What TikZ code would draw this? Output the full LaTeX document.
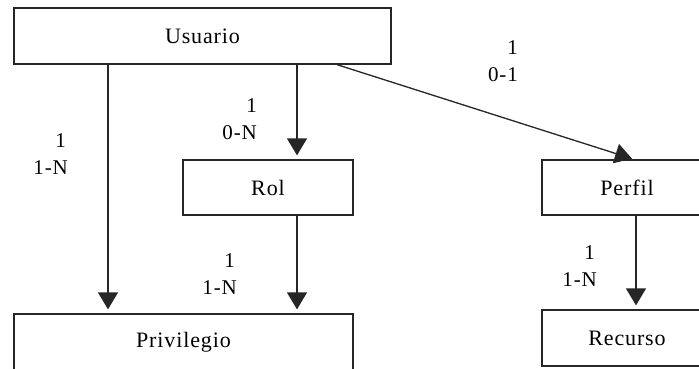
\documentclass[tikz,border=0pt]{standalone}
\usepackage{fontspec}
\setmainfont{Liberation Serif}[LetterSpace=4]
\usetikzlibrary{arrows.meta,calc}
\begin{document}
\begin{tikzpicture}[x=1pt,y=-1pt,
  box/.style={draw=black!85,line width=1.3pt,inner sep=0pt,minimum height=56pt,font=\fontsize{22}{25}\selectfont},
  conn/.style={line width=1.3pt,draw=black!85,-{Triangle[width=20pt,length=17pt]},shorten >=4pt},
  lbl/.style={font=\fontsize{21}{24}\selectfont,anchor=east,inner sep=0pt}]
\useasboundingbox (0,0) rectangle (699,368);
\fill[white] (0,0) rectangle (699,368);
\clip (0,0) rectangle (699,368);
% boxes
\node[box,minimum width=377pt] (usuario) at (202.5,36) {Usuario};
\node[box,minimum width=170pt,minimum height=55pt] (rol) at (268,187.5) {Rol};
\node[box,minimum width=170pt,minimum height=55pt] (perfil) at (627,187.5) {Perfil};
\node[box,minimum width=339pt] (privilegio) at (183.5,342) {Privilegio};
\node[box,minimum width=170pt] (recurso) at (627,338) {Recurso};
% x positions of connectors
\coordinate (xa) at (108,0);
\coordinate (xb) at (297,0);
\coordinate (xc) at (636,0);
\coordinate (xd) at (337,0);
\coordinate (xe) at (634,0);
% connectors
\draw[conn] (usuario.south -| xa) -- (privilegio.north -| xa);
\draw[conn] (usuario.south -| xb) -- (rol.north -| xb);
\draw[conn] (rol.south -| xb) -- (privilegio.north -| xb);
\draw[conn] (perfil.south -| xc) -- (recurso.north -| xc);
\draw[conn,shorten >=2pt] (usuario.south -| xd) -- (perfil.north -| xe);
% labels
\node[lbl] (la1) at (66,141) {1};
\node[lbl] (la2) at (68,168) {1-N};
\node[lbl] (lb1) at (257,106) {1};
\node[lbl] (lb2) at (257,133) {0-N};
\node[lbl] (lc1) at (518,48) {1};
\node[lbl] (lc2) at (518,75) {0-1};
\node[lbl] (ld1) at (235,261) {1};
\node[lbl] (ld2) at (237,288) {1-N};
\node[lbl] (le1) at (595,253) {1};
\node[lbl] (le2) at (597,280) {1-N};
\end{tikzpicture}
\end{document}
